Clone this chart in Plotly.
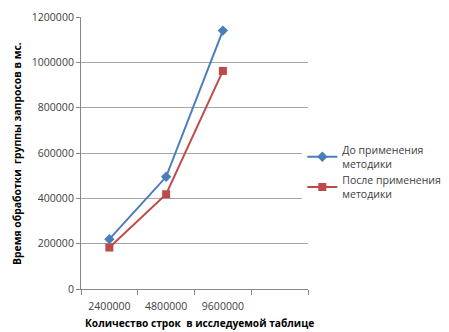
import plotly.graph_objects as go

categories = ["2400000", "4800000", "9600000", " "]
before = [220000, 495000, 1140000]
after = [183000, 418000, 962000]
y_ticks = [0, 200000, 400000, 600000, 800000, 1000000, 1200000]

FONT = "Open Sans"

fig = go.Figure()
fig.add_trace(go.Scatter(
    x=categories[:3], y=before, mode="lines+markers",
    name="До применения<br>методики",
    line=dict(color="#4A7EBB", width=2),
    marker=dict(symbol="diamond", size=8, color="#4A7EBB"),
))
fig.add_trace(go.Scatter(
    x=categories[:3], y=after, mode="lines+markers",
    name="После применения<br>методики",
    line=dict(color="#BE4B48", width=2),
    marker=dict(symbol="square", size=8, color="#BE4B48"),
))

fig.update_layout(
    width=441, height=324,
    margin=dict(l=73, r=141, t=9, b=43, autoexpand=False),
    paper_bgcolor="white", plot_bgcolor="white",
    font=dict(family=FONT, size=11, color="#404040"),
    showlegend=True,
    legend=dict(x=0.975, y=0.43, xanchor="left", yanchor="middle",
                font=dict(family=FONT, size=10.5, color="#404040"),
                tracegroupgap=9, itemwidth=30),
    annotations=[
        dict(text="<b>Количество строк  в исследуемой таблице</b>",
             xref="paper", yref="paper", x=0.52, y=-0.125,
             xanchor="center", yanchor="middle", showarrow=False,
             font=dict(family=FONT, size=10.2, color="#000000")),
        dict(text="<b>Время обработки  группы запросов в мс.</b>",
             xref="paper", yref="paper", x=-0.282, y=0.5, textangle=-90,
             xanchor="center", yanchor="middle", showarrow=False,
             font=dict(family=FONT, size=10.4, color="#000000")),
    ],
)
fig.update_xaxes(
    type="category", categoryorder="array", categoryarray=categories,
    range=[-0.5, 3.5], tickson="boundaries", ticks="outside", ticklen=5,
    tickcolor="#888888", showline=True, linecolor="#888888", showgrid=False,
    tickangle=0, automargin=False, ticklabelstandoff=7,
    tickfont=dict(family=FONT, size=10.5, color="#404040"),
)
fig.update_yaxes(
    range=[0, 1200000], tickvals=y_ticks, ticktext=[str(v) for v in y_ticks],
    showgrid=True, gridcolor="#A6A6A6", gridwidth=1,
    showline=True, linecolor="#888888", ticks="outside", ticklen=4,
    tickcolor="#888888", zeroline=False, automargin=False,
    tickfont=dict(family=FONT, size=10.5, color="#404040"),
)

fig.write_html("out.html")
